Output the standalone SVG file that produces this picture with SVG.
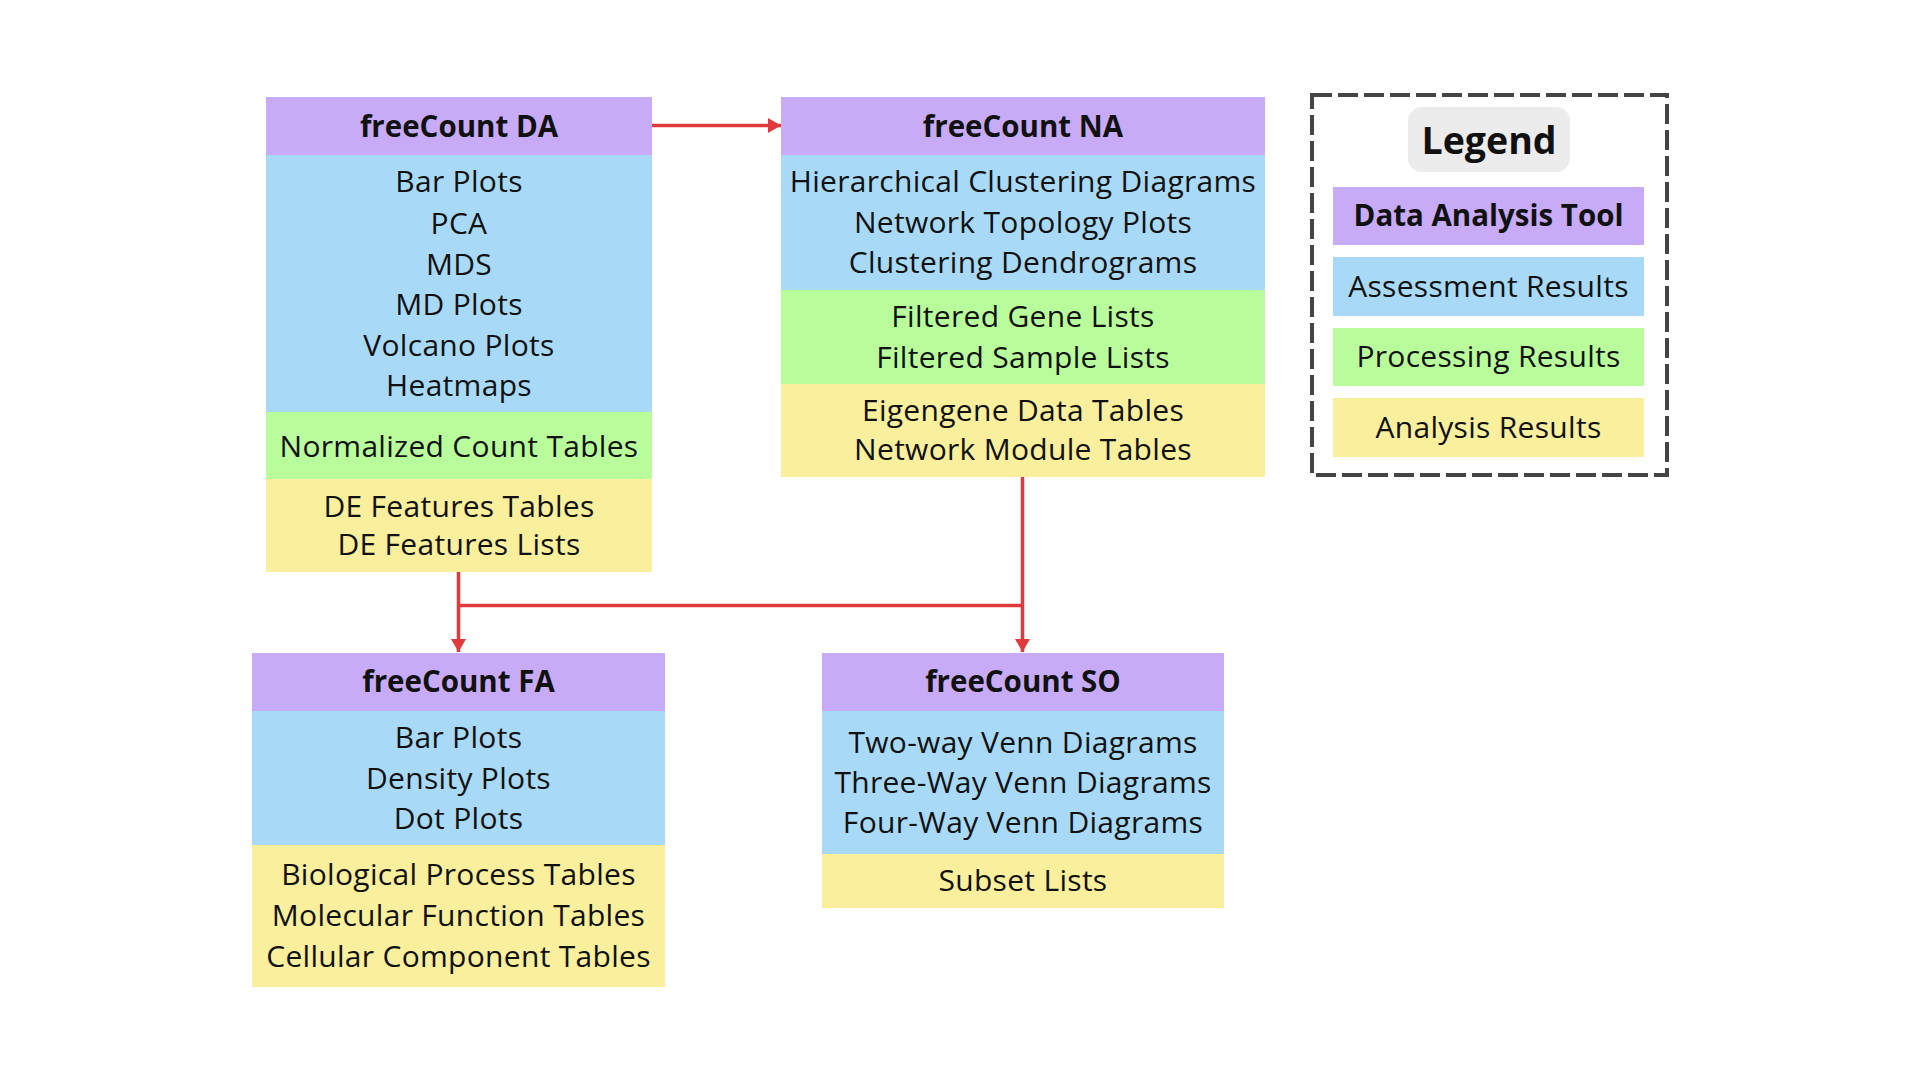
<svg xmlns="http://www.w3.org/2000/svg" width="1920" height="1080" viewBox="0 0 1920 1080">
<style>
.hd{fill:#c7abf7}
.bl{fill:#a8daf7}
.gr{fill:#b9fc9b}
.ye{fill:#f9ef9c}
text{font-family:"Open Sans","Noto Sans","Liberation Sans",sans-serif;font-size:30px;letter-spacing:0.3px;fill:#111;text-anchor:middle}
.b{font-weight:700;font-size:29.5px;letter-spacing:0}
.conn{stroke:#e03a3e;stroke-width:3.5;fill:none}
</style>
<defs>
<marker id="ah" viewBox="0 0 13 15" refX="13" refY="7.5" markerWidth="13" markerHeight="15" markerUnits="userSpaceOnUse" orient="auto">
<path d="M0,0 L13,7.5 L0,15 Z" fill="#e03a3e"/>
</marker>
</defs>
<rect width="1920" height="1080" fill="#fff"/>
<g id="connectors">
<line class="conn" x1="652" y1="125.5" x2="781" y2="125.5" marker-end="url(#ah)"/>
<line class="conn" x1="458.5" y1="572" x2="458.5" y2="652" marker-end="url(#ah)"/>
<line class="conn" x1="458.5" y1="605.5" x2="1022.5" y2="605.5"/>
<line class="conn" x1="1022.5" y1="477" x2="1022.5" y2="652" marker-end="url(#ah)"/>
</g>
<g id="node-da">
<rect class="hd" x="266" y="97" width="386" height="58"/>
<rect class="bl" x="266" y="155" width="386" height="257"/>
<rect class="gr" x="266" y="412" width="386" height="67"/>
<rect class="ye" x="266" y="479" width="386" height="93"/>
<text class="b" x="459" y="137">freeCount DA</text>
<text x="459" y="192">Bar Plots</text>
<text x="459" y="234">PCA</text>
<text x="459" y="275">MDS</text>
<text x="459" y="315">MD Plots</text>
<text x="459" y="356">Volcano Plots</text>
<text x="459" y="396">Heatmaps</text>
<text x="459" y="457">Normalized Count Tables</text>
<text x="459" y="517">DE Features Tables</text>
<text x="459" y="555">DE Features Lists</text>
</g>
<g id="node-na">
<rect class="hd" x="781" y="97" width="484" height="58"/>
<rect class="bl" x="781" y="155" width="484" height="135"/>
<rect class="gr" x="781" y="290" width="484" height="94"/>
<rect class="ye" x="781" y="384" width="484" height="93"/>
<text class="b" x="1023" y="137">freeCount NA</text>
<text x="1023" y="192">Hierarchical Clustering Diagrams</text>
<text x="1023" y="233">Network Topology Plots</text>
<text x="1023" y="273">Clustering Dendrograms</text>
<text x="1023" y="327">Filtered Gene Lists</text>
<text x="1023" y="368">Filtered Sample Lists</text>
<text x="1023" y="421">Eigengene Data Tables</text>
<text x="1023" y="460">Network Module Tables</text>
</g>
<g id="node-fa">
<rect class="hd" x="252" y="653" width="413" height="58"/>
<rect class="bl" x="252" y="711" width="413" height="134"/>
<rect class="ye" x="252" y="845" width="413" height="142"/>
<text class="b" x="458.5" y="692">freeCount FA</text>
<text x="458.5" y="748">Bar Plots</text>
<text x="458.5" y="789">Density Plots</text>
<text x="458.5" y="829">Dot Plots</text>
<text x="458.5" y="885">Biological Process Tables</text>
<text x="458.5" y="926">Molecular Function Tables</text>
<text x="458.5" y="967">Cellular Component Tables</text>
</g>
<g id="node-so">
<rect class="hd" x="822" y="653" width="402" height="58"/>
<rect class="bl" x="822" y="711" width="402" height="143"/>
<rect class="ye" x="822" y="854" width="402" height="54"/>
<text class="b" x="1023" y="692">freeCount SO</text>
<text x="1023" y="753">Two-way Venn Diagrams</text>
<text x="1023" y="793">Three-Way Venn Diagrams</text>
<text x="1023" y="833">Four-Way Venn Diagrams</text>
<text x="1023" y="891">Subset Lists</text>
</g>
<g id="legend">
<rect x="1312" y="95" width="355" height="380" fill="none" stroke="#444" stroke-width="4" stroke-dasharray="20 6"/>
<rect x="1408" y="107" width="162" height="65" rx="14" fill="#ececec"/>
<text class="b" x="1489" y="154" style="font-size:37.5px">Legend</text>
<rect class="hd" x="1333" y="187" width="311" height="58"/>
<rect class="bl" x="1333" y="257" width="311" height="59"/>
<rect class="gr" x="1333" y="328" width="311" height="58"/>
<rect class="ye" x="1333" y="398" width="311" height="59"/>
<text class="b" x="1488.5" y="226">Data Analysis Tool</text>
<text x="1488.5" y="297">Assessment Results</text>
<text x="1488.5" y="367">Processing Results</text>
<text x="1488.5" y="438">Analysis Results</text>
</g>
</svg>
